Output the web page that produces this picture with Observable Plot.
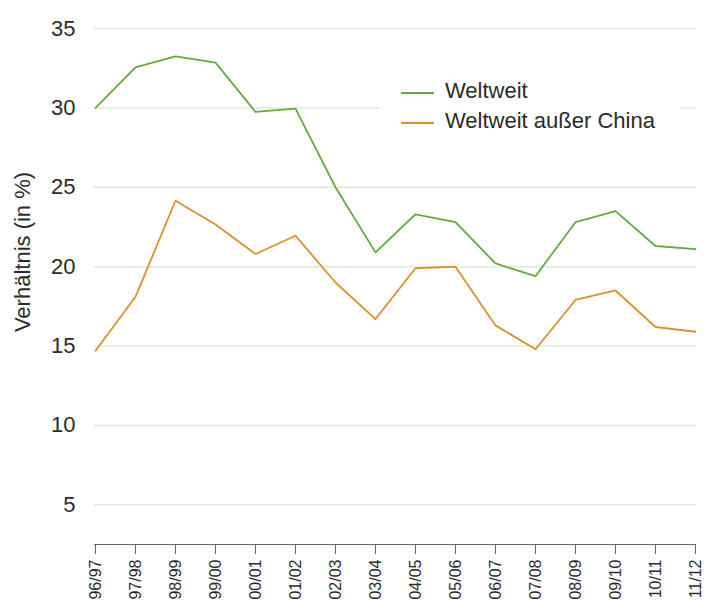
<!DOCTYPE html>
<html>
<head>
<meta charset="utf-8">
<script src="https://cdn.jsdelivr.net/npm/d3@7"></script>
<script src="https://cdn.jsdelivr.net/npm/@observablehq/plot@0.6"></script>
<style>
  body { margin: 0; background: #fff; }
  #wrap { position: relative; width: 704px; height: 601px; font-family: "Liberation Sans", Arial, sans-serif; }
  #legend { position: absolute; left: 381px; top: 76px; width: 299px; height: 62px; background: #fff; }
  .item { position: absolute; left: 20px; display: flex; align-items: center; font-size: 22px; line-height: 22px; color: #2b2b2b; }
  .swatch { width: 33px; height: 0; border-top: 2px solid; margin-right: 11px; margin-top: 4px; }
  #ylabel { position: absolute; left: 23px; top: 252px; transform: translate(-50%, -50%) rotate(-90deg); font-size: 22px; color: #2b2b2b; white-space: nowrap; }
</style>
</head>
<body>
<div id="wrap"></div>
<script>
const years = ["96/97","97/98","98/99","99/00","00/01","01/02","02/03","03/04","04/05","05/06","06/07","07/08","08/09","09/10","10/11","11/12"];
const weltweit = [30.0, 32.55, 33.25, 32.85, 29.75, 29.95, 25.0, 20.9, 23.3, 22.8, 20.2, 19.4, 22.8, 23.5, 21.3, 21.1];
const ohneChina = [14.7, 18.1, 24.15, 22.65, 20.8, 21.95, 19.0, 16.7, 19.9, 20.0, 16.3, 14.8, 17.9, 18.5, 16.2, 15.9];
const seriesNames = ["Weltweit", "Weltweit außer China"];
const seriesColors = ["#67a93e", "#d8922c"];
const yTicks = [5, 10, 15, 20, 25, 30, 35];
const yMin = 2.5, yMax = 35;

const data = [];
years.forEach((y, i) => {
  data.push({year: y, value: weltweit[i], series: seriesNames[0]});
  data.push({year: y, value: ohneChina[i], series: seriesNames[1]});
});

const chart = Plot.plot({
  width: 704,
  height: 601,
  marginLeft: 94,
  marginRight: 8,
  marginTop: 28,
  marginBottom: 57,
  style: {fontFamily: '"Liberation Sans", Arial, sans-serif', color: "#2b2b2b", background: "#fff"},
  x: {type: "point", domain: years, padding: 0},
  y: {domain: [yMin, yMax]},
  color: {domain: seriesNames, range: seriesColors},
  marks: [
    Plot.gridY(yTicks, {stroke: "#dfead3", strokeOpacity: 1, strokeWidth: 1.5}),
    Plot.ruleY([yMin], {stroke: "#666", strokeWidth: 1.2}),
    Plot.axisX({tickRotate: -90, tickSize: 10, tickPadding: 5, fontSize: 16, stroke: "#666", label: null, color: "#2b2b2b"}),
    Plot.axisY(yTicks, {tickSize: 0, tickPadding: 19, fontSize: 22, label: null, color: "#2b2b2b"}),
    Plot.line(data, {x: "year", y: "value", stroke: "series", strokeWidth: 1.8})
  ]
});

const wrap = document.getElementById("wrap");
wrap.appendChild(chart);

const legend = document.createElement("div");
legend.id = "legend";
seriesNames.forEach((name, i) => {
  const item = document.createElement("div");
  item.className = "item";
  item.style.top = (i * 30 + 4) + "px";
  const sw = document.createElement("span");
  sw.className = "swatch";
  sw.style.borderColor = seriesColors[i];
  const t = document.createElement("span");
  t.textContent = name;
  item.appendChild(sw);
  item.appendChild(t);
  legend.appendChild(item);
});
wrap.appendChild(legend);

const yl = document.createElement("div");
yl.id = "ylabel";
yl.textContent = "Verhältnis (in %)";
wrap.appendChild(yl);
</script>
</body>
</html>
